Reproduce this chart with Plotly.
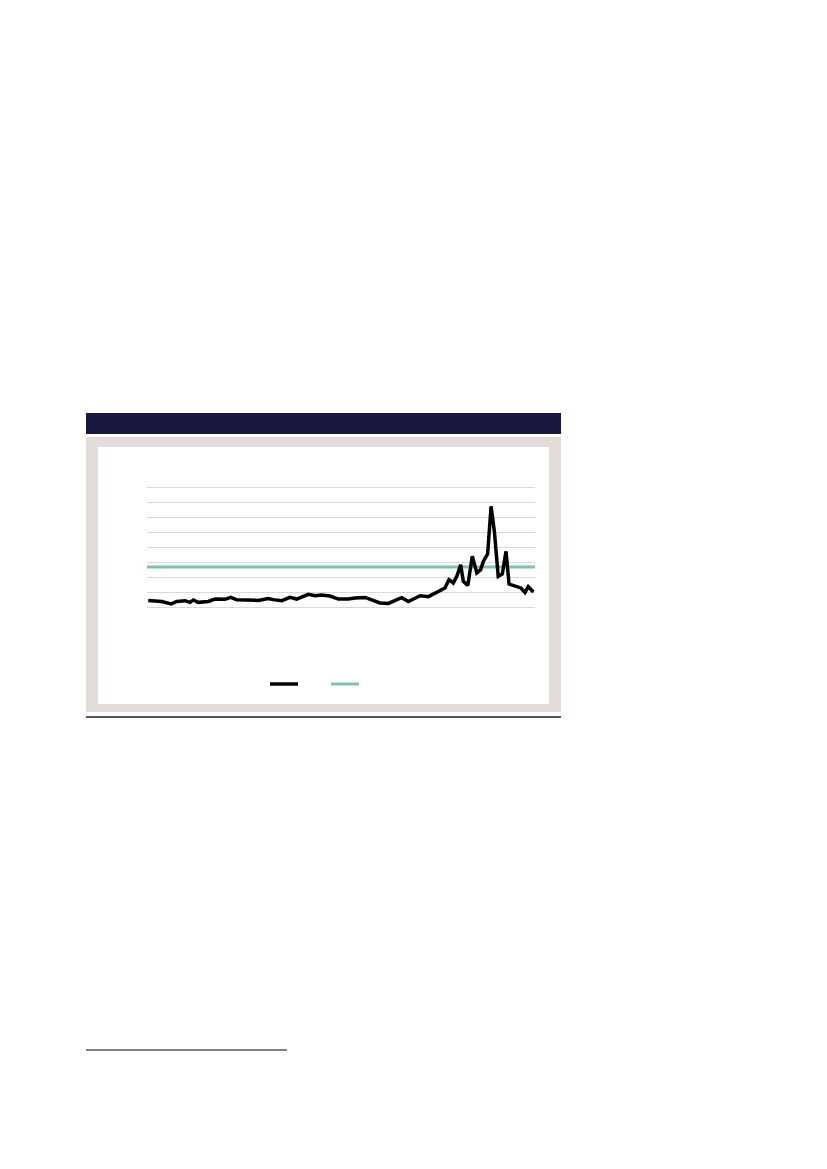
import plotly.graph_objects as go

# Time axis (decimal years) and series values
years = [2005.06, 2005.72, 2006.18, 2006.45, 2006.86, 2007.11, 2007.27, 2007.51, 2008.00,
         2008.33, 2008.82, 2009.10, 2009.39, 2009.96, 2010.45, 2010.94, 2011.18, 2011.60,
         2012.00, 2012.33, 2012.90, 2013.23, 2013.55, 2013.96, 2014.37, 2014.86, 2015.19,
         2015.68, 2016.00, 2016.41, 2016.82, 2017.14, 2017.47, 2017.80, 2018.37, 2018.78,
         2019.10, 2019.43, 2019.59, 2019.79, 2020.00, 2020.17, 2020.36, 2020.49, 2020.71,
         2020.93, 2021.15, 2021.34, 2021.47, 2021.68, 2021.85, 2022.01, 2022.20, 2022.40,
         2022.58, 2022.73, 2023.02, 2023.31, 2023.51, 2023.67, 2023.92]
price = [0.44, 0.37, 0.20, 0.37, 0.42, 0.31, 0.47, 0.31, 0.37,
         0.53, 0.51, 0.64, 0.49, 0.44, 0.44, 0.57, 0.49, 0.42,
         0.64, 0.53, 0.84, 0.75, 0.80, 0.73, 0.53, 0.53, 0.60,
         0.64, 0.49, 0.27, 0.24, 0.42, 0.62, 0.37, 0.75, 0.69,
         0.91, 1.20, 1.27, 1.82, 1.60, 2.04, 2.82, 1.71, 1.44,
         3.38, 2.27, 2.49, 3.04, 3.53, 6.71, 5.04, 2.04, 2.20,
         3.71, 1.53, 1.38, 1.27, 0.97, 1.36, 1.00]
average_years = [2005.0, 2024.0]
average_value = [2.67, 2.67]

OFF = 8                      # default page body margin around the plot div
W, H = 827, 1169
X0, X1 = 147, 535            # plot area edges on the page
Y_ZERO, Y_TOP = 607, 487     # page y of value 0 and value 8
Y_MIN, Y_MAX = -0.2, 8.2
PPU = (Y_ZERO - Y_TOP) / 8.0
PT = Y_TOP - (Y_MAX - 8) * PPU   # page y of plot top
PB = Y_ZERO + (0 - Y_MIN) * PPU  # page y of plot bottom

def px(x):
    return (x - X0) / (X1 - X0)

def py(y):
    return (PB - y) / (PB - PT)

fig = go.Figure()
fig.add_trace(go.Scatter(x=average_years, y=average_value, mode="lines",
                         line=dict(color="#7dc4a7", width=3), showlegend=False,
                         hoverinfo="skip"))
fig.add_trace(go.Scatter(x=years, y=price, mode="lines",
                         line=dict(color="#000000", width=3.5), showlegend=False))

shapes = [
    dict(type="rect", xref="paper", yref="paper", x0=px(86), x1=px(561), y0=py(434), y1=py(413),
         fillcolor="#18173e", line=dict(width=0), layer="below"),
    dict(type="rect", xref="paper", yref="paper", x0=px(86), x1=px(561), y0=py(712), y1=py(437),
         fillcolor="#e3dcdb", line=dict(width=0), layer="below"),
    dict(type="rect", xref="paper", yref="paper", x0=px(98), x1=px(549), y0=py(704), y1=py(447),
         fillcolor="#ffffff", line=dict(width=0), layer="below"),
    dict(type="line", xref="paper", yref="paper", x0=px(86), x1=px(561), y0=py(717), y1=py(717),
         line=dict(color="#18173e", width=1.5), layer="below"),
    dict(type="line", xref="paper", yref="paper", x0=px(86), x1=px(287), y0=py(1050), y1=py(1050),
         line=dict(color="#000000", width=1), layer="below"),
    dict(type="line", xref="paper", yref="paper", x0=px(270), x1=px(298), y0=py(684), y1=py(684),
         line=dict(color="#000000", width=3.5)),
    dict(type="line", xref="paper", yref="paper", x0=px(331), x1=px(359), y0=py(684), y1=py(684),
         line=dict(color="#7dc4a7", width=3)),
]

fig.update_layout(
    width=W, height=H,
    margin=dict(l=X0 - OFF, r=W - X1 + OFF, t=PT - OFF, b=H - PB + OFF, pad=0),
    paper_bgcolor="#ffffff", plot_bgcolor="rgba(0,0,0,0)",
    shapes=shapes, showlegend=False,
    xaxis=dict(range=[2005.0, 2024.0], showgrid=False, zeroline=False,
               showticklabels=False, showline=False, ticks=""),
    yaxis=dict(range=[Y_MIN, Y_MAX], tick0=0, dtick=1, showgrid=True, gridcolor="#d9d9d9",
               gridwidth=1, zeroline=False, showticklabels=False, showline=False, ticks=""),
)

fig.write_html("out.html")
